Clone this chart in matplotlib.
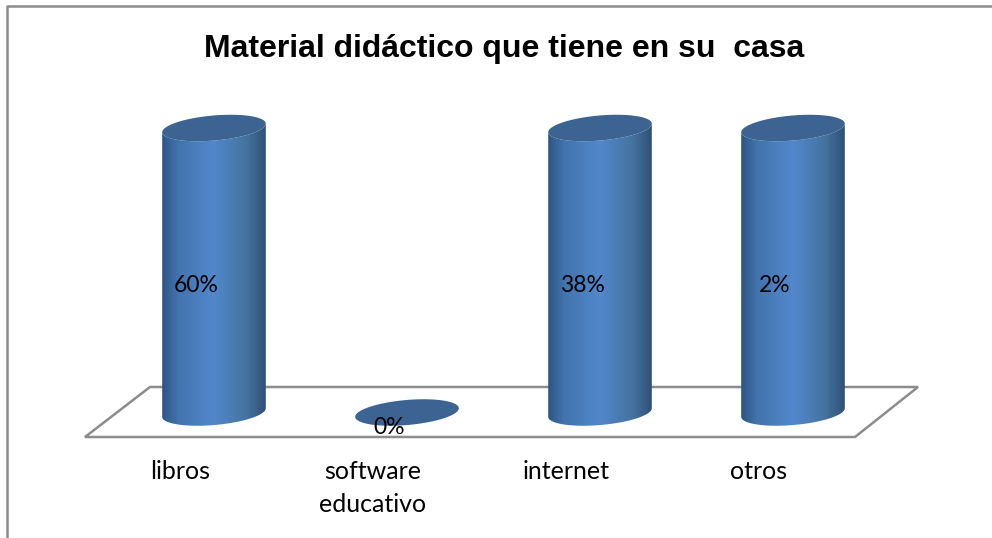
"""Material didactico: 3D-looking cylinders drawn on a plain axes."""

import matplotlib

matplotlib.use("Agg")

import matplotlib.pyplot as plt
import numpy as np
from matplotlib.colors import LinearSegmentedColormap
from matplotlib.lines import Line2D
from matplotlib.patches import PathPatch, Polygon
from matplotlib.path import Path
from matplotlib.transforms import ScaledTranslation

TITLE = "Material didáctico que tiene en su  casa"
CATEGORIES = ["libros", "software\neducativo", "internet", "otros"]
# the drawn columns do not follow their labels: three are full height
HEIGHTS = [1, 0, 1, 1]
LABELS = ["60%", "0%", "38%", "2%"]

W, H = 992, 538
GREY = "#8c8c8c"
TOP_COLOR = "#3c6391"
TEXT_FONT = "Lato"
side_cmap = LinearSegmentedColormap.from_list(
    "side", [(0, "#2e5583"), (0.15, "#4273ad"), (0.5, "#5288cc"), (0.82, "#44729f"), (1, "#2f4f76")]
)

# pixel positions of category -0.5..3.5 and of height 0 and 1
AX_L, AX_R, Y_ONE, Y_ZERO = 117.5, 889.5, 128, 412.5
PX_X = (AX_R - AX_L) / len(CATEGORIES)
PX_Y = Y_ZERO - Y_ONE
# headroom so the ellipses stay inside the axes
Y_PAD = 0.1
# cylinder ellipse in pixels
SEMI_A, SEMI_B, TILT = 52.0, 12.5, np.radians(5)


def px(x, y):
    return x / W, 1 - y / H


def ellipse(cx, cy, t):
    """Tilted ellipse outline in data units."""
    ex = SEMI_A * np.cos(t) * np.cos(TILT) - SEMI_B * np.sin(t) * np.sin(TILT)
    ey = SEMI_A * np.cos(t) * np.sin(TILT) + SEMI_B * np.sin(t) * np.cos(TILT)
    return cx + ex / PX_X, cy + ey / PX_Y


def draw_cylinder(ax, i, v):
    if v > 0:
        # side wall: bottom half of base ellipse, up to the top ellipse
        t = np.linspace(np.pi, 2 * np.pi, 60)
        bx, by = ellipse(i, 0, t)
        tx, ty = ellipse(i, v, t[::-1])
        verts = np.column_stack([np.r_[bx, tx], np.r_[by, ty]])
        clip = PathPatch(Path(np.vstack([verts, verts[0]]), closed=True), fc="none", ec="none")
        ax.add_patch(clip)
        half = SEMI_A / PX_X
        grad = np.linspace(0, 1, 256).reshape(1, -1)
        im = ax.imshow(
            grad, cmap=side_cmap, aspect="auto", zorder=3,
            extent=[i - half, i + half, -Y_PAD, v + Y_PAD],
        )
        im.set_clip_path(clip)
    tx, ty = ellipse(i, v, np.linspace(0, 2 * np.pi, 120))
    ax.fill(tx, ty, color=TOP_COLOR, lw=0, zorder=4)


def main():
    plt.rcParams["font.family"] = TEXT_FONT
    fig = plt.figure(figsize=(W / 100, H / 100), dpi=100)

    # chart frame, only top and left are inside the picture
    fig.add_artist(Line2D(*zip(px(7, H), px(7, 6), px(W, 6)), color=GREY, lw=1.8))

    fig.text(*px(504, 49), TITLE, ha="center", va="center", fontsize=23,
             fontweight="bold", family="Liberation Sans")

    # floor, behind the axes
    floor = [px(85, 437), px(855, 437), px(918, 387), px(150, 387)]
    fig.add_artist(Polygon(floor, closed=True, fc="white", ec=GREY, lw=1.8,
                           transform=fig.transFigure, zorder=-1))

    bottom = Y_ZERO + Y_PAD * PX_Y
    height = PX_Y * (1 + 2 * Y_PAD)
    ax = fig.add_axes([AX_L / W, 1 - bottom / H, (AX_R - AX_L) / W, height / H])
    ax.patch.set_alpha(0)
    for spine in ax.spines.values():
        spine.set_visible(False)

    for i, (v, lab) in enumerate(zip(HEIGHTS, LABELS)):
        draw_cylinder(ax, i, v)
        ax.annotate(lab, xy=(i, v / 2), xytext=(-18, -15), textcoords="offset pixels",
                    ha="center", va="center", fontsize=16.5, color="black", zorder=6)

    ax.set_xlim(-0.5, len(CATEGORIES) - 0.5)
    ax.set_ylim(-Y_PAD, 1 + Y_PAD)
    ax.set_yticks([])
    ax.set_xticks(range(len(CATEGORIES)), CATEGORIES, fontsize=18, linespacing=1.5)
    ax.tick_params(axis="x", length=0, pad=14)
    shift = ScaledTranslation(-34 / 100, 0, fig.dpi_scale_trans)
    for tick in ax.get_xticklabels():
        tick.set_transform(tick.get_transform() + shift)

    fig.savefig("out.png", dpi=100)


if __name__ == "__main__":
    main()
